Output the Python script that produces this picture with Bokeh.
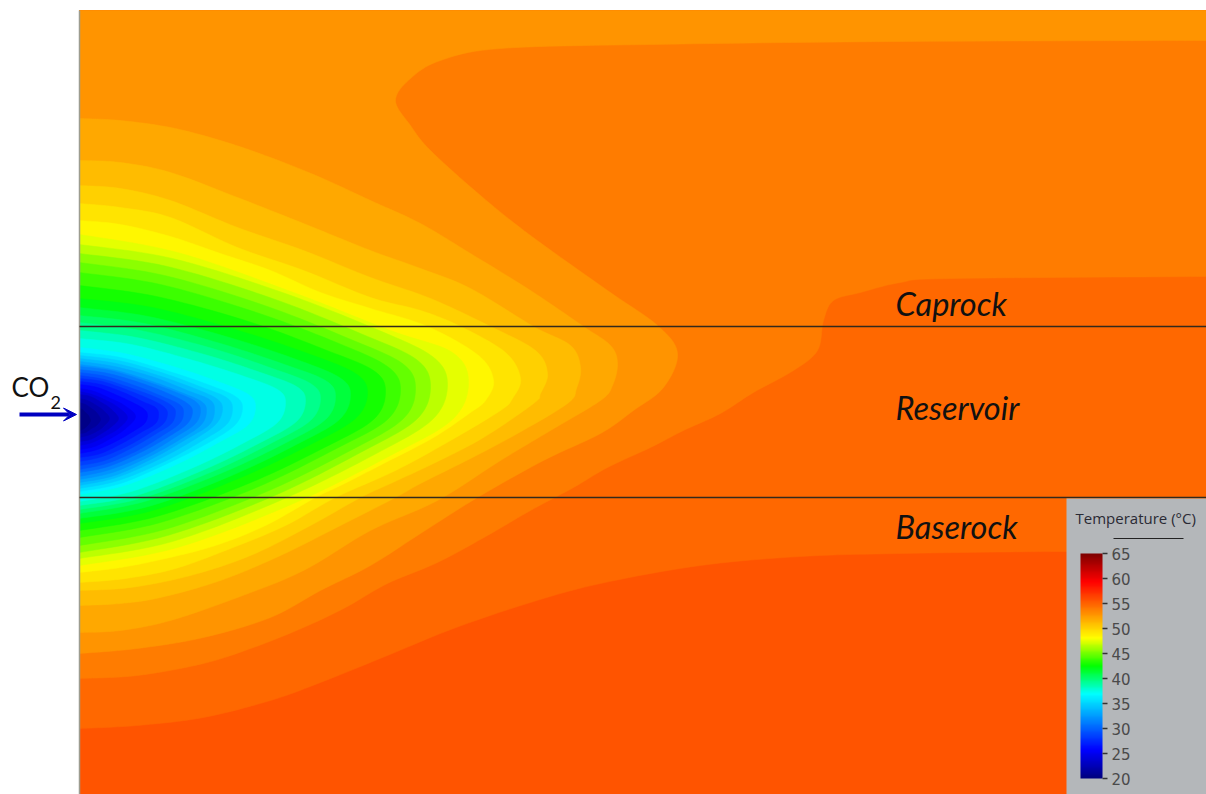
import numpy as np
from bokeh.plotting import figure
from bokeh.models import ColumnDataSource, LinearColorMapper, ColorBar, FixedTicker, Label, Arrow, VeeHead
from bokeh.embed import file_html
from bokeh.resources import INLINE

# Temperature of each contour band (deg C), coolest first
band_temps = [20.45, 21.35, 22.25, 23.15, 24.05, 24.95, 25.85, 26.75, 27.65, 28.55,
              29.45, 30.35, 31.25, 32.15, 33.05, 33.95, 34.85, 35.75, 36.65, 37.55,
              38.45, 39.35, 40.25, 41.15, 42.05, 42.95, 43.85, 44.75, 45.65, 46.55,
              47.45, 48.35, 49.25, 50.15, 51.05, 51.95, 52.85, 53.75, 54.65]
outer_temp = 55.55

# Contour outlines, one per band
c01 = [(79,408),(82,409),(85,412),(88,415),(90,420),(88,424),(85,427),(82,429),(79,430)]
c02 = [(79,402),(85,404),(91,408),(96,412),(100,419),(96,425),(91,428),(85,432),(79,433)]
c03 = [(79,398),(87,400),(96,405),(103,410),(109,418),(103,426),(96,431),(87,435),(79,437)]
c04 = [(79,394),(90,396),(101,402),(110,408),(118,418),(110,427),(101,433),(90,439),(79,441)]
c05 = [(79,391),(92,394),(106,400),(118,407),(127,417),(118,428),(106,435),(92,442),(79,445)]
c06 = [(79,388),(94,391),(110,398),(124,405),(135,416),(124,429),(110,438),(94,446),(79,449)]
c07 = [(79,384),(97,387),(117,395),(134,403),(144,409),(147,415),(144,423),(134,430),(117,440),(97,449),(79,453)]
c08 = [(79,381),(100,384),(123,392),(142,401),(155,407),(158,414),(155,423),(142,431),(123,442),(100,453),(79,457)]
c09 = [(79,378),(102,381),(128,390),(150,399),(163,406),(167,413),(163,423),(150,432),(128,445),(102,456),(79,461)]
c10 = [(79,375),(104,379),(132,388),(156,397),(171,405),(175,412),(171,423),(156,433),(132,447),(104,460),(79,465)]
c11 = [(79,372),(106,376),(137,386),(162,396),(179,404),(183,412),(179,423),(162,435),(137,450),(106,463),(79,469)]
c12 = [(79,369),(108,373),(142,383),(170,394),(187,403),(192,411),(187,423),(170,435),(142,451),(108,466),(79,472)]
c13 = [(79,366),(110,370),(146,381),(176,392),(195,401),(200,410),(195,423),(176,436),(146,454),(110,469),(79,476)]
c14 = [(79,364),(112,369),(149,380),(181,392),(201,401),(206,410),(201,424),(181,438),(149,456),(112,472),(79,479)]
c15 = [(79,361),(114,366),(154,377),(187,390),(209,399),(214,409),(209,424),(187,438),(154,457),(114,475),(79,482)]
c16 = [(79,358),(116,363),(158,375),(194,388),(216,398),(222,408),(216,423),(194,439),(158,459),(116,477),(79,485)]
c17 = [(79,355),(118,360),(164,373),(202,387),(226,397),(232,408),(226,424),(202,440),(164,461),(118,480),(79,488)]
c18 = [(79,352),(120,357),(169,371),(210,385),(235,396),(242,407),(235,424),(210,441),(169,462),(120,483),(79,491)]
c19 = [(79,347),(124,353),(176,367),(220,382),(248,394),(255,406),(248,424),(220,441),(176,464),(124,485),(79,494)]
c20 = [(79,338),(131,344),(193,360),(244,376),(277,389),(285,402),(277,422),(244,442),(193,467),(131,491),(79,501)]
c21 = [(79,330),(136,337),(204,354),(260,372),(296,386),(305,400),(296,421),(260,442),(204,469),(136,495),(79,505)]
c22 = [(79,322),(140,330),(212,348),(272,368),(310,383),(320,398),(310,420),(272,442),(212,471),(140,498),(79,509)]
c23 = [(79,315),(144,323),(220,343),(284,364),(325,380),(335,396),(325,419),(284,443),(220,473),(144,501),(79,513)]
c24 = [(79,307),(148,316),(229,337),(296,359),(339,377),(350,394),(339,419),(296,444),(229,476),(148,506),(79,518)]
c25 = [(79,298),(152,307),(238,330),(310,354),(355,373),(367,392),(355,418),(310,444),(238,478),(152,510),(79,523)]
c26 = [(79,285),(156,296),(248,321),(324,349),(373,370),(385,391),(373,419),(324,447),(248,483),(156,516),(79,530)]
c27 = [(79,272),(160,284),(256,312),(336,342),(387,366),(400,389),(387,419),(336,448),(256,487),(160,522),(79,537)]
c28 = [(79,262),(164,275),(264,305),(348,338),(402,363),(415,388),(402,419),(348,451),(264,492),(164,529),(79,545)]
c29 = [(79,253),(167,266),(272,298),(360,333),(416,359),(430,386),(416,419),(360,452),(272,496),(167,535),(79,552)]
c30 = [(79,244),(172,258),(282,292),(374,328),(432,356),(447,384),(432,419),(374,454),(282,499),(172,541),(79,558)]
c31 = [(79,234),(177,252),(293,292),(390,330),(452,352),(468,382),(452,419),(390,455),(293,503),(177,547),(79,565)]
c32 = [(79,220),(120,224),(170,236),(220,253),(270,270),(320,292),(370,308),(427,326),(478,355),
       (493,380),(485,400),(470,412),(433,437),(385,462),(340,485),(315,497),(265,525),(215,545),(165,558),(120,567),(79,572)]
c33 = [(79,203),(120,207),(170,217),(237,247),(303,270),(370,297),(420,310),(460,326),(505,352),
       (520,378),(512,398),(500,410),(450,440),(395,470),(335,497),(285,525),(230,548),(175,568),(125,578),(79,582)]
c34 = [(79,185),(120,188),(170,200),(237,227),(303,250),(370,277),(430,298),(490,326),(535,350),
       (547,373),(540,393),(533,403),(483,437),(435,462),(390,483),(360,497),(310,525),(250,555),(190,575),(130,587),(79,590)]
c35 = [(79,160),(120,162),(170,172),(237,197),(303,223),(370,250),(420,268),(470,288),(533,326),(570,345),
       (580,367),(576,388),(567,403),(517,433),(470,458),(420,483),(395,497),(340,525),(280,555),(220,580),(160,597),(120,603),(79,605)]
c36 = [(79,118),(120,120),(170,127),(220,140),(270,157),(320,177),(370,200),(420,223),(470,253),(530,290),(583,326),
       (610,345),(617,363),(612,385),(600,400),(550,430),(500,460),(437,500),(370,530),(303,570),(237,597),(170,620),(120,630),(79,632)]
c37 = [(79,653),(137,648),(203,637),(270,617),(320,590),(370,565),(420,533),(477,497),(543,460),(600,433),(633,410),
       (663,387),(677,353),(657,325),(607,290),(530,235),(480,195),(430,150),(410,125),(395,100),(410,78),(440,60),
       (500,48),(650,44),(900,41),(1206,40)]
c38 = [(79,678),(137,675),(203,663),(253,647),(303,627),(345,607),(387,583),(437,562),(487,535),(530,510),(573,487),
       (607,467),(650,447),(683,430),(720,413),(753,392),(793,370),(817,350),(823,320),(833,300),(860,292),
       (900,282),(950,278),(1206,276)]
c39 = [(79,728),(137,725),(203,717),(270,700),(320,682),(387,655),(453,628),(530,602),(600,583),(700,565),(800,556),
       (900,553),(1060,551),(1206,551)]

lobes = [c01, c02, c03, c04, c05, c06, c07, c08, c09, c10, c11, c12, c13, c14, c15, c16, c17, c18, c19, c20,
         c21, c22, c23, c24, c25, c26, c27, c28, c29, c30, c31, c32, c33, c34, c35, c36, c37, c38, c39]

cbar_ticks = [20, 25, 30, 35, 40, 45, 50, 55, 60, 65]
layer_lines = [326, 497]
layer_names = ["Caprock", "Reservoir", "Baserock"]
layer_name_y = [322, 426, 545]
plot_left, plot_right, plot_top, plot_bottom = 79, 1206, 10, 794
panel_left, panel_top = 1066, 498

# colour scale as shown by the legend: temperature, red, green, blue
scale_t = [20.0, 25.6, 36.9, 42.5, 48.1, 59.4, 65.0]
scale_r = [0, 0, 0, 0, 255, 255, 127]
scale_g = [0, 0, 255, 255, 255, 0, 0]
scale_b = [127, 255, 255, 0, 0, 0, 0]


def smooth(pts, n=10):
    """Catmull-Rom curve through the outline points."""
    q = np.array(pts, float)
    q = np.vstack([q[0], q, q[-1]])
    out = []
    for i in range(1, len(q) - 2):
        for t in np.linspace(0, 1, n, endpoint=False):
            a, b, c, d = q[i - 1], q[i], q[i + 1], q[i + 2]
            out.append(0.5 * (2 * b + (c - a) * t + (2 * a - 5 * b + 4 * c - d) * t ** 2
                              + (3 * b - a - 3 * c + d) * t ** 3))
    out.append(q[-2])
    return np.array(out)


grid = np.linspace(20, 65, 256)
palette = ["#%02x%02x%02x" % (int(r), int(g), int(b)) for r, g, b in zip(
    np.interp(grid, scale_t, scale_r), np.interp(grid, scale_t, scale_g), np.interp(grid, scale_t, scale_b))]
mapper = LinearColorMapper(palette=palette, low=20, high=65)

p = figure(width=1206, height=794, x_range=(0, 1206), y_range=(794, 0),
           x_axis_type=None, y_axis_type=None, toolbar_location=None,
           output_backend="svg", min_border=0, outline_line_color=None,
           background_fill_color="white")
p.grid.visible = False

# base band
xs = [[plot_left, plot_right, plot_right, plot_left]]
ys = [[plot_top, plot_top, plot_bottom, plot_bottom]]
temps = [outer_temp]

# bands from warmest to coolest, each painted over the previous one
for pts, temp in reversed(list(zip(lobes, band_temps))):
    s = smooth(pts)
    x = list(s[:, 0])
    y = list(s[:, 1])
    if pts is c39 or pts is c38 or pts is c37:
        x += [plot_right, plot_left]
        y += [plot_top, plot_top]
    xs.append(x)
    ys.append(y)
    temps.append(temp)

src = ColumnDataSource(dict(xs=xs, ys=ys, T=temps))
p.patches("xs", "ys", source=src, fill_color={"field": "T", "transform": mapper},
          line_color={"field": "T", "transform": mapper}, line_width=0.5)

# left edge and layer boundaries
p.segment([plot_left], [plot_top], [plot_left], [plot_bottom], line_color="#9c9c90", line_width=1.5)
p.segment([plot_left] * 2, layer_lines, [plot_right] * 2, layer_lines, line_color="#33291c", line_width=1.3)

# legend panel
p.quad(left=[panel_left], right=[plot_right], top=[panel_top], bottom=[plot_bottom],
       fill_color="#b4b7ba", line_color=None)
p.segment([1113], [538], [1183], [538], line_color="#222222", line_width=1.2)

bar = ColorBar(color_mapper=mapper, ticker=FixedTicker(ticks=cbar_ticks),
               location=(1080, 16), width=22, height=225, padding=0, margin=0,
               background_fill_alpha=0, border_line_color=None, bar_line_color=None,
               major_tick_in=0, major_tick_out=5, major_tick_line_color="#333333",
               major_tick_line_width=1.5, minor_tick_line_color=None,
               major_label_text_font="DejaVu Sans", major_label_text_font_size="15px",
               major_label_text_color="#4a4a4a", label_standoff=4)
p.add_layout(bar)

p.add_layout(Label(x=1075, y=527, text="Temperature (°C)", text_font="Open Sans",
                   text_font_size="15px", text_color="#2a2a34"))

for name, y in zip(layer_names, layer_name_y):
    p.add_layout(Label(x=895, y=y, text=name, text_font="Lato", text_font_style="italic",
                       text_font_size="32.5px", text_color="#111111"))

p.add_layout(Label(x=11, y=402, text="CO", text_font="Lato", text_font_size="26px", text_color="#111111"))
p.add_layout(Label(x=50, y=408, text="2", text_font="Lato", text_font_size="18px", text_color="#111111"))

p.add_layout(Arrow(end=VeeHead(size=13, fill_color="#0000c0", line_color="#0000c0", line_width=1),
                   x_start=19, y_start=414, x_end=76, y_end=414,
                   line_color="#0000c0", line_width=4))

open("out.html", "w").write(file_html(p, INLINE))
